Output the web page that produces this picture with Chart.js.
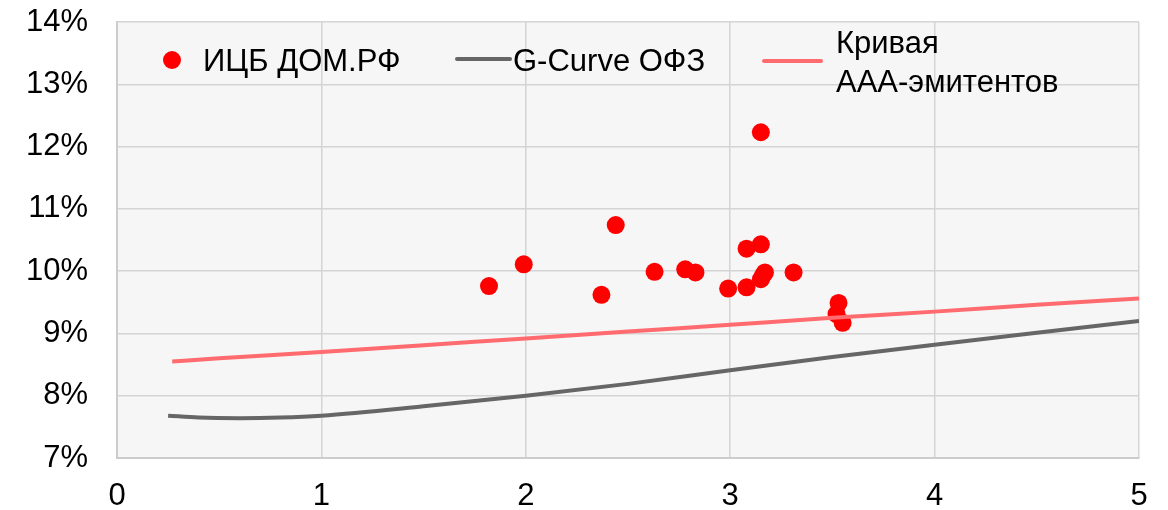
<!DOCTYPE html>
<html>
<head>
<meta charset="utf-8">
<script src="https://cdn.jsdelivr.net/npm/chart.js@4.4.1/dist/chart.umd.min.js"></script>
<style>
  html, body { margin: 0; padding: 0; background: #ffffff; }
  #wrap { width: 1168px; height: 510px; position: relative; }
</style>
</head>
<body>
<div id="wrap"><canvas id="c" width="1168" height="510"></canvas></div>
<script>
// ---- Data ----
const seriesNames = ["ИЦБ ДОМ.РФ", "G-Curve ОФЗ", "Кривая ААА-эмитентов"];

// ИЦБ ДОМ.РФ bonds: duration (years) and yield (%)
const mbsX = [1.82, 1.99, 2.44, 2.37, 2.63, 2.78, 2.83, 2.99, 3.08, 3.15, 3.08, 3.15, 3.17, 3.16, 3.31, 3.53, 3.52, 3.55, 3.15];
const mbsY = [9.76, 10.11, 10.74, 9.62, 9.99, 10.03, 9.98, 9.72, 10.36, 10.43, 9.74, 9.87, 9.98, 9.93, 9.98, 9.49, 9.31, 9.17, 12.23];

// G-Curve ОФЗ
const gX = [0.25, 0.4, 0.6, 0.8, 1.0, 1.5, 2.0, 2.5, 3.0, 3.5, 4.0, 4.5, 5.0];
const gY = [7.68, 7.65, 7.64, 7.65, 7.68, 7.83, 8.00, 8.19, 8.41, 8.62, 8.82, 9.01, 9.20];

// Кривая ААА-эмитентов
const aaaX = [0.27, 0.5, 1.0, 1.5, 2.0, 2.5, 3.0, 3.5, 4.0, 4.5, 5.0];
const aaaY = [8.55, 8.60, 8.70, 8.81, 8.92, 9.03, 9.14, 9.25, 9.35, 9.46, 9.56];

// Axis ticks
const xTicks = [0, 1, 2, 3, 4, 5];
const yTicks = [7, 8, 9, 10, 11, 12, 13, 14];

const toPts = (xs, ys) => xs.map((x, i) => ({ x: x, y: ys[i] }));

const FONT = "'Liberation Sans', Arial, sans-serif";
const COL_DOT = '#ff0000';
const COL_G = '#666666';
const COL_AAA = '#ff6b6e';

const plotBg = {
  id: 'plotBg',
  beforeDraw(chart) {
    const { ctx, chartArea: a } = chart;
    ctx.save();
    ctx.fillStyle = '#f6f6f6';
    ctx.fillRect(a.left, a.top, a.right - a.left, a.bottom - a.top);
    ctx.restore();
  }
};

const legendPlugin = {
  id: 'customLegend',
  afterDraw(chart) {
    const ctx = chart.ctx;
    ctx.save();
    ctx.font = '31px ' + FONT;
    ctx.fillStyle = '#000000';
    ctx.textBaseline = 'alphabetic';
    ctx.textAlign = 'left';
    ctx.beginPath();
    ctx.fillStyle = COL_DOT;
    ctx.arc(172, 60, 9, 0, Math.PI * 2);
    ctx.fill();
    ctx.fillStyle = '#000000';
    ctx.fillText(seriesNames[0], 203, 71);
    ctx.lineCap = 'round';
    ctx.lineWidth = 4;
    ctx.strokeStyle = COL_G;
    ctx.beginPath(); ctx.moveTo(457, 59); ctx.lineTo(510, 59); ctx.stroke();
    ctx.fillText(seriesNames[1], 513, 71);
    ctx.strokeStyle = COL_AAA;
    ctx.beginPath(); ctx.moveTo(764, 61); ctx.lineTo(821, 61); ctx.stroke();
    ctx.fillText('Кривая', 836, 53);
    ctx.fillText('ААА-эмитентов', 836, 92);
    ctx.restore();
  }
};

new Chart(document.getElementById('c'), {
  type: 'scatter',
  data: {
    datasets: [
      {
        label: seriesNames[1],
        data: toPts(gX, gY),
        showLine: true,
        borderColor: COL_G,
        borderWidth: 4,
        pointRadius: 0,
        cubicInterpolationMode: 'monotone',
        order: 1
      },
      {
        label: seriesNames[2],
        data: toPts(aaaX, aaaY),
        showLine: true,
        borderColor: COL_AAA,
        borderWidth: 4,
        pointRadius: 0,
        cubicInterpolationMode: 'monotone',
        order: 2
      },
      {
        label: seriesNames[0],
        data: toPts(mbsX, mbsY),
        backgroundColor: COL_DOT,
        borderColor: COL_DOT,
        borderWidth: 0,
        pointRadius: 9,
        pointHoverRadius: 9,
        order: 3
      }
    ]
  },
  options: {
    responsive: false,
    animation: false,
    devicePixelRatio: 1,
    layout: { padding: { top: 22, right: 29, bottom: 0, left: 0 } },
    plugins: {
      legend: { display: false },
      tooltip: { enabled: false }
    },
    scales: {
      x: {
        type: 'linear',
        min: 0, max: 5,
        afterBuildTicks(scale) { scale.ticks = xTicks.map(v => ({ value: v })); },
        afterFit(scale) { scale.height = 52; scale.paddingLeft = 0; scale.paddingRight = 0; },
        ticks: { color: '#000', font: { family: FONT, size: 31 }, padding: 20, callback: v => String(v) },
        grid: { color: '#d4d4d4', lineWidth: 1.5, drawTicks: false },
        border: { color: '#cccccc', width: 2 }
      },
      y: {
        type: 'linear',
        min: 7, max: 14,
        afterBuildTicks(scale) { scale.ticks = yTicks.map(v => ({ value: v })); },
        afterFit(scale) { scale.width = 117; scale.paddingTop = 0; scale.paddingBottom = 0; },
        ticks: { color: '#000', font: { family: FONT, size: 31 }, padding: 29, callback: v => v + '%' },
        grid: { color: '#d4d4d4', lineWidth: 1.5, drawTicks: false },
        border: { color: '#cccccc', width: 2 }
      }
    }
  },
  plugins: [plotBg, legendPlugin]
});
</script>
</body>
</html>
